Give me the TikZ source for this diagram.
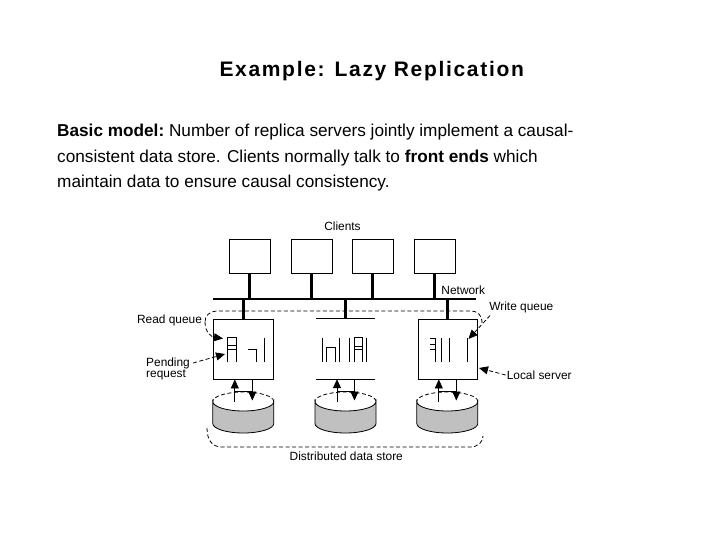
\documentclass[tikz,border=0pt]{standalone}
\usepackage{fontspec}
\setmainfont{Liberation Sans}
\newfontfamily\titlefont[LetterSpace=8]{Liberation Sans}
\usetikzlibrary{arrows.meta}
\definecolor{diskgray}{RGB}{192,192,192}
\begin{document}
\begin{tikzpicture}[x=1pt,y=-1pt,
  client/.style={draw,line width=0.9pt,minimum width=41pt,minimum height=34pt,inner sep=0pt},
  serverbox/.style={draw,line width=0.9pt,minimum width=60pt,minimum height=60pt,inner sep=0pt},
  serverbare/.style={minimum width=59pt,minimum height=60pt,inner sep=0pt},
  netline/.style={line width=2.4pt},
  thin/.style={line width=0.8pt},
  lbl/.style={font=\fontsize{11.9}{13}\selectfont,inner sep=1pt},
  bodyline/.style={anchor=base west,inner sep=0pt,font=\fontsize{17.2}{20}\selectfont},
  tip/.style={-{Triangle[length=9pt,width=8pt]}},
  dsh/.style={dashed,dash pattern=on 4pt off 2.5pt,line width=0.8pt}
]
\useasboundingbox (0,0) rectangle (720,540);
\fill[white] (0,0) rectangle (720,540);

% title and text
\node[anchor=base,inner sep=0pt,font=\titlefont\fontsize{21}{25}\selectfont\bfseries] (title) at (371.7,76.7) {Example: Lazy Replication};
\node[bodyline] (l1) at (57,136.7) {\frenchspacing\textbf{Basic model:} Number of replica servers jointly implement a causal-};
\node[bodyline] (l2) at (57,162.3) {consistent data store. Clients normally talk to \textbf{front ends} which};
\node[bodyline] (l3) at (57,187.7) {maintain data to ensure causal consistency.};

% clients
\node[lbl] (clients) at (342.5,226.5) {Clients};
\node[client] (c1) at (249.5,256) {};
\node[client] (c2) at (311.5,256) {};
\node[client] (c3) at (372.5,256) {};
\node[client] (c4) at (434.5,256) {};

% network
\coordinate (netL) at (213,299);
\coordinate (netR) at (476,299);
\draw[netline] (netL) -- (netR);
\node[lbl] (network) at (463.3,290.7) {Network};
\foreach \c in {c1,c2,c3,c4}{
  \draw[netline] (\c.south) -- (\c.south |- netL);
}

% servers
\node[serverbox] (s1) at (243.3,349) {};
\node[serverbare] (s2) at (345.5,349) {};
\draw[line width=0.9pt] (s2.north west) -- (s2.north east);
\draw[line width=0.9pt] (s2.south west) -- (s2.south east);
\node[serverbox,minimum width=59pt] (s3) at (447.5,349) {};
\foreach \s in {s1,s2,s3}{
  \draw[netline] (\s.north) -- (\s.north |- netL);
}

% queue glyphs, server 1
\draw[thin] (227,362) -- (227,337.5) -- (236.5,337.5) -- (236.5,362);
\draw[thin] (227,345.5) -- (236.5,345.5);
\draw[thin] (227,349) -- (236.5,349);
\draw[thin] (248.3,349) -- (256,349) -- (256,362);
\draw[thin] (264.3,337.7) -- (264.3,362);
% server 2
\draw[thin] (322.3,337.7) -- (322.3,362.3);
\draw[thin] (326.7,362) -- (326.7,347.7) -- (335.7,347.7) -- (335.7,362);
\draw[thin] (339,337.7) -- (339,362.3);
\draw[thin] (349,337.7) -- (349,362.3);
\draw[thin] (354,362) -- (354,337.7) -- (362.7,337.7) -- (362.7,362);
\draw[thin] (354,346) -- (362.7,346);
\draw[thin] (354,349) -- (362.7,349);
\draw[thin] (366.7,337.7) -- (366.7,362.3);
% server 3
\draw[thin] (430,338.3) -- (435.7,338.3) -- (435.7,362);
\draw[thin] (430,344.3) -- (435.7,344.3);
\draw[thin] (430,349) -- (435.7,349);
\draw[thin] (441.7,338) -- (441.7,362);
\draw[thin] (449.3,338) -- (449.3,362);
\draw[thin] (467.7,338) -- (467.7,362);

% disks
\foreach \d/\cx in {d1/243.3,d2/345.5,d3/447.3}{
  \coordinate (\d) at (\cx,401.5);
  \filldraw[fill=diskgray,line width=0.8pt] (\cx-30.5,401.5) -- (\cx-30.5,423.5)
     arc[start angle=180,end angle=360,x radius=30.5pt,y radius=9.5pt]
     -- (\cx+30.5,401.5)
     arc[start angle=0,end angle=-180,x radius=30.5pt,y radius=9.5pt] -- cycle;
  \draw[dsh] (\cx+30.5,401.5) arc[start angle=0,end angle=180,x radius=30.5pt,y radius=9.5pt];
}

% disk <-> server arrows
\foreach \d/\s in {d1/s1,d2/s2,d3/s3}{
  \coordinate (\d up) at ([xshift=-8.5pt]\d);
  \coordinate (\d dn) at ([xshift=9pt]\d);
  \draw[thin,tip] (\d up) -- (\d up |- \s.south);
  \draw[thin,tip] (\d dn |- \s.south) -- ([yshift=1pt]\d dn);
  \draw[thin] ([yshift=10.5pt]\d up) -- ([yshift=10.5pt]\d dn);
}

% distributed data store boundary
\draw[dsh] (482,323) .. controls (482,315) and (478,311) .. (470,311) -- (218,311)
   .. controls (209,311) and (205,316) .. (205,322);
\draw[dsh] (207,428) .. controls (207,440) and (212,447) .. (222,447) -- (470,447)
   .. controls (478,447) and (483,442) .. (483,436);
\node[lbl] (dds) at (346.3,456) {Distributed data store};

% labels with leaders
\node[lbl] (rq) at (169.5,320) {Read queue};
\coordinate (rqtip) at (223,338.5);
\draw[dsh,tip] (205,322) .. controls (205,333) and (212,337) .. (rqtip);

\node[lbl,anchor=west,inner sep=0pt] (pend) at (146,363) {Pending};
\node[lbl,anchor=west,inner sep=0pt] (req) at (146,375) {request};
\coordinate (prtip) at (225,354);
\draw[dsh,tip] ([xshift=3pt]pend.east) -- (prtip);

\node[lbl] (wq) at (521.3,307.7) {Write queue};
\coordinate (wqtip) at (468.5,339);
\draw[dsh,tip] ([xshift=2pt,yshift=-1pt]wq.south west) -- (wqtip);

\node[lbl] (ls) at (539.2,375) {Local server};
\coordinate (lstip) at (479,368);
\draw[dsh,tip] (ls.west) -- (lstip);
\end{tikzpicture}
\end{document}
